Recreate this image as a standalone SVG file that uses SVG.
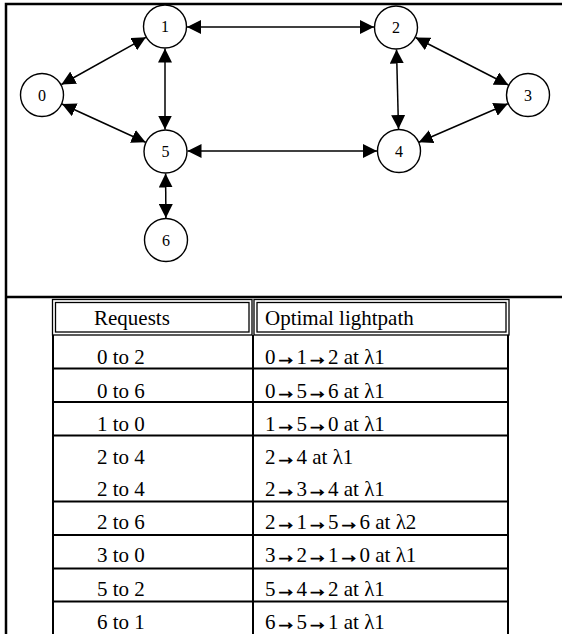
<svg xmlns="http://www.w3.org/2000/svg" width="562" height="634" viewBox="0 0 562 634">
<style>
.frame{fill:none;stroke:#000;stroke-width:2.5}
.node circle{fill:#fff;stroke:#000;stroke-width:1.4}
.node text{font-family:"Liberation Serif","Times New Roman",serif;font-size:16px;text-anchor:middle;fill:#000}
.edge{stroke:#000;stroke-width:1.5;fill:none;marker-start:url(#ah);marker-end:url(#ah)}
.tl{stroke:#000;stroke-width:2;fill:none}
.thin{stroke:#000;stroke-width:1.3;fill:none}
.tt{font-family:"Liberation Serif","Times New Roman",serif;font-size:21px;fill:#000}
.ar{stroke:#000;stroke-width:0.9}
</style>
<defs>
<marker id="ah" viewBox="0 0 14 14" refX="14" refY="7" markerWidth="14" markerHeight="14" markerUnits="userSpaceOnUse" orient="auto-start-reverse">
<path d="M0,0 L14,7 L0,14 z" fill="#000"/>
</marker>
</defs>
<rect width="562" height="634" fill="#fff"/>
<path class="frame" d="M6,634 V4 H562"/>
<line class="frame" x1="6" y1="297" x2="562" y2="297"/>

<g id="connectors">
<line class="edge" x1="61.4" y1="84.5" x2="145.9" y2="37.3"/>
<line class="edge" x1="62" y1="104" x2="145.6" y2="142.2"/>
<line class="edge" x1="187" y1="27" x2="374" y2="27"/>
<line class="edge" x1="165" y1="48.5" x2="165" y2="129.5"/>
<line class="edge" x1="187.5" y1="151" x2="377" y2="151"/>
<line class="edge" x1="396.5" y1="49.5" x2="398.5" y2="129"/>
<line class="edge" x1="415.6" y1="37.5" x2="508.4" y2="85"/>
<line class="edge" x1="507.8" y1="103.8" x2="418.8" y2="142.2"/>
<line class="edge" x1="165.6" y1="173.5" x2="165.9" y2="218"/>
</g>

<g id="node0" class="node"><circle cx="42" cy="95" r="21.5"/><text x="42" y="100.5">0</text></g>
<g id="node1" class="node"><circle cx="165" cy="26.5" r="21.5"/><text x="165" y="32">1</text></g>
<g id="node2" class="node"><circle cx="396" cy="27.5" r="21.5"/><text x="396" y="33">2</text></g>
<g id="node3" class="node"><circle cx="528" cy="95" r="21.5"/><text x="528" y="100.5">3</text></g>
<g id="node4" class="node"><circle cx="399" cy="151" r="21.5"/><text x="399" y="156.5">4</text></g>
<g id="node5" class="node"><circle cx="165.5" cy="151.5" r="21.5"/><text x="165.5" y="157">5</text></g>
<g id="node6" class="node"><circle cx="166" cy="240" r="21.5"/><text x="166" y="245.5">6</text></g>

<g id="table">
<rect class="thin" x="52.5" y="299.5" width="199.5" height="35.5"/>
<rect class="thin" x="55.5" y="302.5" width="193.5" height="29.5"/>
<rect class="thin" x="254" y="299.5" width="255" height="35.5"/>
<rect class="thin" x="257" y="302.5" width="249" height="29.5"/>
<line class="tl" x1="53" y1="335" x2="53" y2="634"/>
<line class="tl" x1="253" y1="335" x2="253" y2="634"/>
<line class="tl" x1="508" y1="335" x2="508" y2="634"/>
<line class="tl" x1="52" y1="368.5" x2="509" y2="368.5"/>
<line class="tl" x1="52" y1="402" x2="509" y2="402"/>
<line class="tl" x1="52" y1="435.5" x2="509" y2="435.5"/>
<line class="tl" x1="52" y1="501.5" x2="509" y2="501.5"/>
<line class="tl" x1="52" y1="535" x2="509" y2="535"/>
<line class="tl" x1="52" y1="568.5" x2="509" y2="568.5"/>
<line class="tl" x1="52" y1="601.5" x2="509" y2="601.5"/>
<text class="tt" x="94" y="325">Requests</text>
<text class="tt" x="265" y="325">Optimal lightpath</text>
<text class="tt" x="97" y="364">0 to 2</text><text class="tt" x="265" y="364">0<tspan class="ar">→</tspan>1<tspan class="ar">→</tspan>2 at λ1</text>
<text class="tt" x="97" y="398">0 to 6</text><text class="tt" x="265" y="398">0<tspan class="ar">→</tspan>5<tspan class="ar">→</tspan>6 at λ1</text>
<text class="tt" x="97" y="431">1 to 0</text><text class="tt" x="265" y="431">1<tspan class="ar">→</tspan>5<tspan class="ar">→</tspan>0 at λ1</text>
<text class="tt" x="97" y="464">2 to 4</text><text class="tt" x="265" y="464">2<tspan class="ar">→</tspan>4 at λ1</text>
<text class="tt" x="97" y="496">2 to 4</text><text class="tt" x="265" y="496">2<tspan class="ar">→</tspan>3<tspan class="ar">→</tspan>4 at λ1</text>
<text class="tt" x="97" y="529">2 to 6</text><text class="tt" x="265" y="529">2<tspan class="ar">→</tspan>1<tspan class="ar">→</tspan>5<tspan class="ar">→</tspan>6 at λ2</text>
<text class="tt" x="97" y="562">3 to 0</text><text class="tt" x="265" y="562">3<tspan class="ar">→</tspan>2<tspan class="ar">→</tspan>1<tspan class="ar">→</tspan>0 at λ1</text>
<text class="tt" x="97" y="596">5 to 2</text><text class="tt" x="265" y="596">5<tspan class="ar">→</tspan>4<tspan class="ar">→</tspan>2 at λ1</text>
<text class="tt" x="97" y="629">6 to 1</text><text class="tt" x="265" y="629">6<tspan class="ar">→</tspan>5<tspan class="ar">→</tspan>1 at λ1</text>
</g>
</svg>
